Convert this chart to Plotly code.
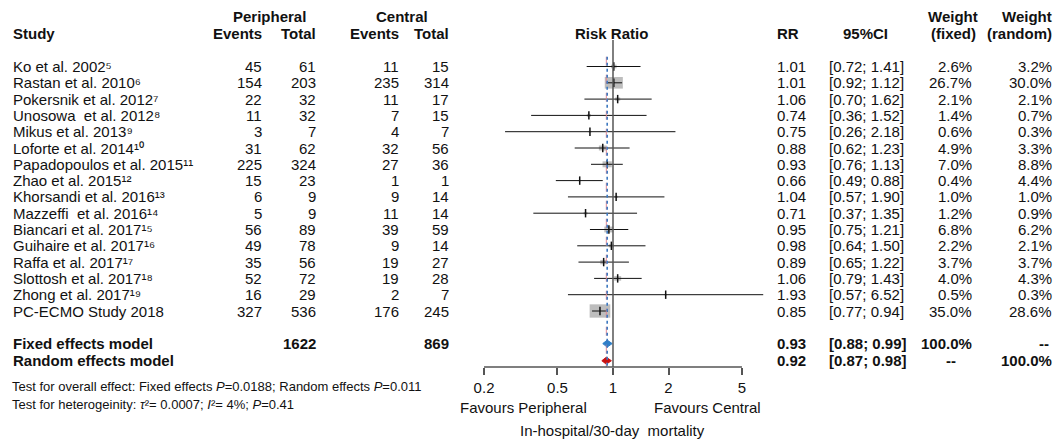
import math
import plotly.graph_objects as go

# ---- study-level data ----
studies = ["Ko et al. 2002", "Rastan et al. 2010", "Pokersnik et al. 2012", "Unosowa  et al. 2012",
           "Mikus et al. 2013", "Loforte et al. 2014", "Papadopoulos et al. 2015", "Zhao et al. 2015",
           "Khorsandi et al. 2016", "Mazzeffi  et al. 2016", "Biancari et al. 2017", "Guihaire et al. 2017",
           "Raffa et al. 2017", "Slottosh et al. 2017", "Zhong et al. 2017", "PC-ECMO Study 2018"]
refs = ["5", "6", "7", "8", "9", "10", "11", "12", "13", "14", "15", "16", "17", "18", "19", ""]
periph_events = [45, 154, 22, 11, 3, 31, 225, 15, 6, 5, 56, 49, 35, 52, 16, 327]
periph_total = [61, 203, 32, 32, 7, 62, 324, 23, 9, 9, 89, 78, 56, 72, 29, 536]
central_events = [11, 235, 11, 7, 4, 32, 27, 1, 9, 11, 39, 9, 19, 19, 2, 176]
central_total = [15, 314, 17, 15, 7, 56, 36, 1, 14, 14, 59, 14, 27, 28, 7, 245]
rr = [1.01, 1.01, 1.06, 0.74, 0.75, 0.88, 0.93, 0.66, 1.04, 0.71, 0.95, 0.98, 0.89, 1.06, 1.93, 0.85]
ci_low = [0.72, 0.92, 0.70, 0.36, 0.26, 0.62, 0.76, 0.49, 0.57, 0.37, 0.75, 0.64, 0.65, 0.79, 0.57, 0.77]
ci_high = [1.41, 1.12, 1.62, 1.52, 2.18, 1.23, 1.13, 0.88, 1.90, 1.35, 1.21, 1.50, 1.22, 1.43, 6.52, 0.94]
weight_fixed = [2.6, 26.7, 2.1, 1.4, 0.6, 4.9, 7.0, 0.4, 1.0, 1.2, 6.8, 2.2, 3.7, 4.0, 0.5, 35.0]
weight_random = [3.2, 30.0, 2.1, 0.7, 0.3, 3.3, 8.8, 4.4, 1.0, 0.9, 6.2, 2.1, 3.7, 4.3, 0.3, 28.6]

# ---- pooled estimates ----
model_names = ["Fixed effects model", "Random effects model"]
model_rr = [0.93, 0.92]
model_low = [0.88, 0.87]
model_high = [0.99, 0.98]
model_wfixed = ["100.0%", "--"]
model_wrandom = ["--", "100.0%"]
fixed_totals = [1622, 869]

x_ticks = [0.2, 0.5, 1, 2, 5]

# ---- layout geometry (pixels) ----
W, H = 1062, 443
PX_PER_DEC = 184.5          # pixels per decade on the log axis
X_ONE = 613                 # pixel position of RR = 1
ROW0_PX = 66.5              # pixel centre of first study row
ROW_PX = 16.3               # row pitch
AXIS_PX = 367               # pixel row of the x axis
TOP_PX = 40
X_LO, X_HI = 0.15, 7.0

FONT = "Liberation Sans, Arial, sans-serif"
TXT = "#111111"
SUPERSCRIPT = str.maketrans("0123456789", "⁰¹²³⁴⁵⁶⁷⁸⁹")

def px(xp):
    return xp / W

def py(yp):
    return 1 - yp / H

def row_of(yp):
    return (yp - ROW0_PX) / ROW_PX

n = len(studies)
rows = list(range(n))
fixed_row = 17.0
random_row = 18.05

dom_x0 = X_ONE + PX_PER_DEC * math.log10(X_LO)
dom_x1 = X_ONE + PX_PER_DEC * math.log10(X_HI)

fig = go.Figure()
shapes = []
ann = []

# reference line at RR = 1
shapes.append(dict(type="line", xref="x", yref="paper", x0=1, x1=1, y0=py(TOP_PX), y1=py(AXIS_PX),
                   line=dict(color="#555555", width=1.5)))
# pooled estimate reference lines (random: red dashed, fixed: blue dotted)
shapes.append(dict(type="line", xref="x", yref="y", x0=model_rr[1], x1=model_rr[1], y0=-0.6, y1=row_of(AXIS_PX),
                   line=dict(color="#e08a95", width=1, dash="dash")))
shapes.append(dict(type="line", xref="x", yref="y", x0=model_rr[0], x1=model_rr[0], y0=-0.6, y1=row_of(AXIS_PX),
                   line=dict(color="#3d78c0", width=1.6, dash="dot")))
# axis line between outer ticks
shapes.append(dict(type="line", xref="x", yref="paper", x0=x_ticks[0], x1=x_ticks[-1], y0=py(AXIS_PX), y1=py(AXIS_PX),
                   line=dict(color="#555555", width=1.5)))

# weight boxes (sized by fixed-effect weight)
for i in rows:
    s = math.sqrt(weight_fixed[i])
    half_w = 3.5 * s / 2 / PX_PER_DEC
    half_h = 2.25 * s / 2 / ROW_PX
    shapes.append(dict(type="rect", xref="x", yref="y", layer="below",
                       x0=rr[i] * 10 ** (-half_w), x1=rr[i] * 10 ** half_w,
                       y0=i - half_h, y1=i + half_h,
                       fillcolor="#bdbdbd", line=dict(width=0)))

# confidence interval lines
ci_x, ci_y = [], []
for i in rows:
    ci_x += [ci_low[i], ci_high[i], None]
    ci_y += [i, i, None]
fig.add_trace(go.Scatter(x=ci_x, y=ci_y, mode="lines", line=dict(color="#111111", width=1),
                         hoverinfo="skip", showlegend=False))
# point estimates
fig.add_trace(go.Scatter(x=rr, y=rows, mode="markers",
                         marker=dict(symbol="line-ns-open", size=6, color="#111111",
                                     line=dict(color="#111111", width=1.5)),
                         showlegend=False))

# pooled diamonds
diamond_half = 3.5 / ROW_PX
for r_val, lo_val, hi_val, yrow, col in [(model_rr[0], model_low[0], model_high[0], fixed_row, "#2f7fc8"),
                                         (model_rr[1], model_low[1], model_high[1], random_row, "#c81010")]:
    fig.add_trace(go.Scatter(x=[lo_val, r_val, hi_val, r_val, lo_val],
                             y=[yrow, yrow - diamond_half, yrow, yrow + diamond_half, yrow],
                             mode="lines", fill="toself", fillcolor=col, line=dict(color=col, width=1),
                             hoverinfo="skip", showlegend=False))

def text(x, y, s, anchor="left", size=15, bold=False, yref="paper", color=TXT):
    if bold:
        s = "<b>" + s + "</b>"
    ann.append(dict(x=x, y=y, xref="paper", yref=yref, text=s, showarrow=False,
                    xanchor=anchor, yanchor="middle", font=dict(family=FONT, size=size, color=color)))

# column headers
text(px(11), py(33), "Study", bold=True)
text(px(269), py(17), "Peripheral", "center", bold=True)
text(px(264), py(33), "Events", "right", bold=True)
text(px(318), py(33), "Total", "right", bold=True)
text(px(402), py(17), "Central", "center", bold=True)
text(px(401), py(33), "Events", "right", bold=True)
text(px(451), py(33), "Total", "right", bold=True)
text(px(611), py(33), "Risk Ratio", "center", bold=True)
text(px(775), py(33), "RR", bold=True)
text(px(865), py(33), "95%CI", "center", bold=True)
text(px(953), py(17), "Weight", "center", bold=True)
text(px(953), py(33), "(fixed)", "center", bold=True)
text(px(1054), py(17), "Weight", "right", bold=True)
text(px(1054), py(33), "(random)", "right", bold=True)

# study rows
for i in rows:
    label = studies[i] + refs[i].translate(SUPERSCRIPT)
    text(px(11), i, label, yref="y")
    text(px(264), i, str(periph_events[i]), "right", yref="y")
    text(px(318), i, str(periph_total[i]), "right", yref="y")
    text(px(401), i, str(central_events[i]), "right", yref="y")
    text(px(451), i, str(central_total[i]), "right", yref="y")
    text(px(775), i, f"{rr[i]:.2f}", yref="y")
    text(px(827), i, f"[{ci_low[i]:.2f}; {ci_high[i]:.2f}]", yref="y")
    text(px(974), i, f"{weight_fixed[i]:.1f}%", "right", yref="y")
    text(px(1054), i, f"{weight_random[i]:.1f}%", "right", yref="y")

# pooled rows
for k, yrow in enumerate([fixed_row, random_row]):
    text(px(11), yrow, model_names[k], bold=True, yref="y")
    text(px(775), yrow, f"{model_rr[k]:.2f}", bold=True, yref="y")
    text(px(827), yrow, f"[{model_low[k]:.2f}; {model_high[k]:.2f}]", bold=True, yref="y")
text(px(318), fixed_row, str(fixed_totals[0]), "right", bold=True, yref="y")
text(px(451), fixed_row, str(fixed_totals[1]), "right", bold=True, yref="y")
text(px(974), fixed_row, model_wfixed[0], "right", bold=True, yref="y")
text(px(1051), fixed_row, model_wrandom[0], "right", bold=True, yref="y")
text(px(951), random_row, model_wfixed[1], "center", bold=True, yref="y")
text(px(1054), random_row, model_wrandom[1], "right", bold=True, yref="y")

# test statistics
text(px(10), py(386), "Test for overall effect: Fixed effects <i>P</i>=0.0188; Random effects <i>P</i>=0.011", size=13)
text(px(10), py(404), "Test for heterogeinity: <i>τ</i>²= 0.0007; <i>I</i>²= 4%; <i>P</i>=0.41", size=13)

# axis captions
text(px(458), py(407), "Favours Peripheral")
text(px(763), py(407), "Favours Central", "right")
text(px(612), py(430), "In-hospital/30-day  mortality", "center")

fig.update_layout(
    width=W, height=H,
    margin=dict(l=0, r=0, t=0, b=0),
    paper_bgcolor="white", plot_bgcolor="white",
    showlegend=False,
    shapes=shapes, annotations=ann,
    xaxis=dict(type="log", range=[math.log10(X_LO), math.log10(X_HI)],
               domain=[px(dom_x0), px(dom_x1)],
               tickvals=x_ticks, ticktext=[str(t) for t in x_ticks],
               ticks="outside", ticklen=7, tickwidth=1.5, tickcolor="#555555",
               showline=False, showgrid=False, zeroline=False,
               tickfont=dict(family=FONT, size=15, color=TXT)),
    yaxis=dict(range=[row_of(AXIS_PX), row_of(TOP_PX)],
               domain=[py(AXIS_PX), py(TOP_PX)],
               showticklabels=False, showgrid=False, zeroline=False, showline=False, ticks=""),
)

fig.write_html("out.html")
